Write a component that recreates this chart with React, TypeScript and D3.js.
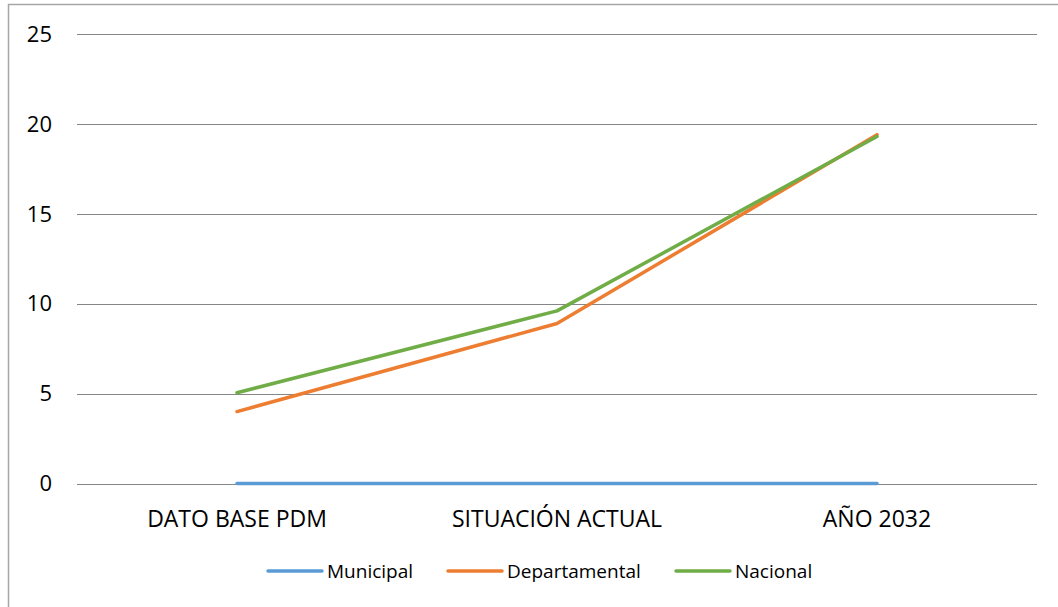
import React from "react";
import * as d3 from "d3";

const categories = ["DATO BASE PDM", "SITUACIÓN ACTUAL", "AÑO 2032"];
const municipal = [0, 0, 0];
const departamental = [4.0, 8.9, 19.4];
const nacional = [5.05, 9.6, 19.3];
const yTicks = [0, 5, 10, 15, 20, 25];

const seriesList = [
  { name: "Municipal", values: municipal, color: "#5B9BD5" },
  { name: "Departamental", values: departamental, color: "#ED7D31" },
  { name: "Nacional", values: nacional, color: "#70AD47" },
];

const W = 1058;
const H = 607;
const FONT = "'Open Sans', sans-serif";

export default function App() {
  const x = d3.scaleBand<string>().domain(categories).range([77, 1037]);
  const y = d3.scaleLinear().domain([0, 25]).range([483.5, 34]);
  const cx = (c: string) => (x(c) ?? 0) + x.bandwidth() / 2;

  const line = d3
    .line<number>()
    .x((_, i) => cx(categories[i]))
    .y((d) => y(d));

  // legend layout
  const legendX = [268, 448, 676];

  return (
    <svg
      width={W}
      height={H}
      style={{ position: "absolute", left: 0, top: 0, background: "#fff" }}
      fontFamily={FONT}
    >
      <rect x={8.5} y={4.5} width={1200} height={800} fill="none" stroke="#a6a6a6" strokeWidth={1.5} />

      {yTicks.map((t) => (
        <g key={t}>
          <line x1={77} x2={1037} y1={Math.round(y(t)) + 0.5} y2={Math.round(y(t)) + 0.5} stroke="#868686" strokeWidth={1} />
          <text x={52} y={y(t)} dy="0.35em" textAnchor="end" fontSize={22} fill="#000">
            {t}
          </text>
        </g>
      ))}

      {categories.map((c) => (
        <text key={c} x={cx(c)} y={527} textAnchor="middle" fontSize={23} fill="#000">
          {c}
        </text>
      ))}

      {seriesList.map((s) => (
        <path
          key={s.name}
          d={line(s.values) ?? ""}
          fill="none"
          stroke={s.color}
          strokeWidth={3.5}
          strokeLinejoin="round"
          strokeLinecap="round"
        />
      ))}

      {seriesList.map((s, i) => (
        <g key={s.name} transform={`translate(${legendX[i]},571)`}>
          <line x1={0} x2={54} y1={0} y2={0} stroke={s.color} strokeWidth={3.5} strokeLinecap="round" />
          <text x={59} y={0} dy="0.35em" fontSize={19} fill="#000">
            {s.name}
          </text>
        </g>
      ))}
    </svg>
  );
}
